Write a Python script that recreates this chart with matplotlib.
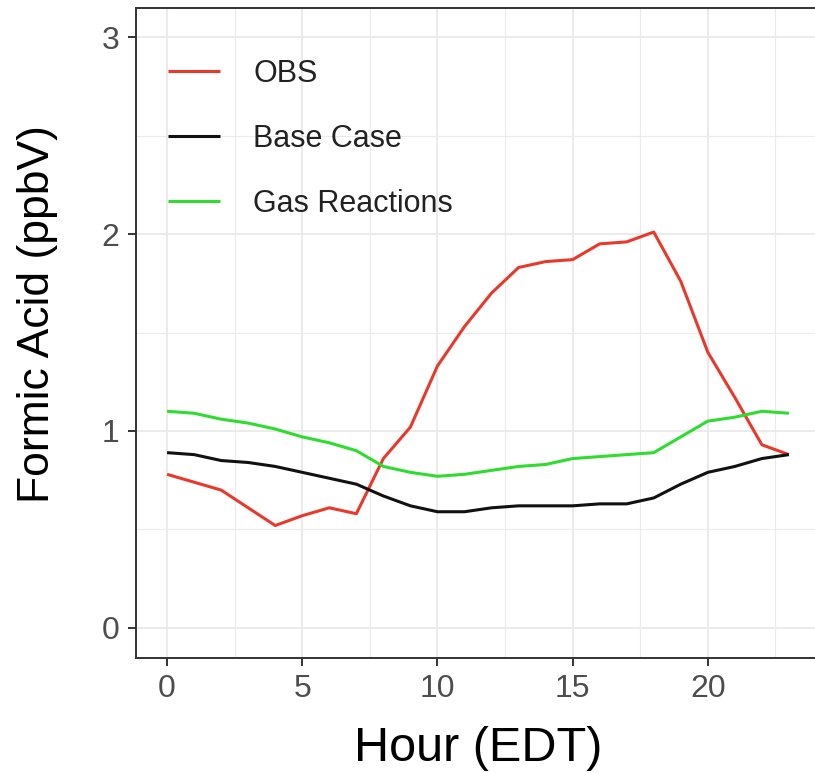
import numpy as np
import matplotlib.pyplot as plt
from matplotlib.ticker import MultipleLocator

plt.rcParams['font.family'] = ['Liberation Sans', 'DejaVu Sans']

# hourly diurnal profiles of formic acid [ppbV]
hours = np.arange(0, 24)
obs = [0.78, 0.74, 0.70, 0.61, 0.52, 0.57, 0.61, 0.58, 0.86, 1.02, 1.33, 1.53,
       1.70, 1.83, 1.86, 1.87, 1.95, 1.96, 2.01, 1.76, 1.40, 1.17, 0.93, 0.88]
base_case = [0.89, 0.88, 0.85, 0.84, 0.82, 0.79, 0.76, 0.73, 0.67, 0.62, 0.59, 0.59,
             0.61, 0.62, 0.62, 0.62, 0.63, 0.63, 0.66, 0.73, 0.79, 0.82, 0.86, 0.88]
gas_reactions = [1.10, 1.09, 1.06, 1.04, 1.01, 0.97, 0.94, 0.90, 0.82, 0.79, 0.77, 0.78,
                 0.80, 0.82, 0.83, 0.86, 0.87, 0.88, 0.89, 0.97, 1.05, 1.07, 1.10, 1.09]

series = [("OBS", obs, "#E8392B"),
          ("Base Case", base_case, "#111111"),
          ("Gas Reactions", gas_reactions, "#2FDC2F")]

W, H = 815, 773
fig = plt.figure(figsize=(W / 100, H / 100), dpi=100)
ax = fig.add_axes([136 / W, (H - 657.5) / H, (820 - 136) / W, (657.5 - 7.5) / H])

for name, vals, col in series:
    ax.plot(hours, vals, color=col, lw=2.2, label=name, solid_capstyle='butt')

ax.set_xlim(-1.15, 24.15)
ax.set_ylim(-0.15, 3.15)
ax.xaxis.set_major_locator(MultipleLocator(5))
ax.xaxis.set_minor_locator(MultipleLocator(2.5))
ax.yaxis.set_major_locator(MultipleLocator(1))
ax.yaxis.set_minor_locator(MultipleLocator(0.5))

ax.grid(which='major', color='#EBEBEB', lw=1.5)
ax.grid(which='minor', color='#EBEBEB', lw=0.8)
ax.set_axisbelow(True)

for s in ax.spines.values():
    s.set_color('#333333')
    s.set_linewidth(1.4)

ax.tick_params(which='major', length=6, width=1.4, color='#333333',
               labelsize=23, labelcolor='#4D4D4D', pad=6)
ax.tick_params(which='minor', length=0)

ax.set_xlabel("Hour (EDT)", fontsize=35, color='black', labelpad=16)
ax.set_ylabel("Formic Acid (ppbV)", fontsize=32, color='black')
ax.yaxis.set_label_coords(-0.114, 0.528)

leg = ax.legend(loc='upper left', bbox_to_anchor=(0.047, 0.921), frameon=False,
                fontsize=22, handlelength=1.7, handletextpad=1.08,
                labelspacing=1.15, borderaxespad=0, borderpad=0)
for t in leg.get_texts():
    t.set_color('#222222')

fig.savefig("out.png", dpi=100)
